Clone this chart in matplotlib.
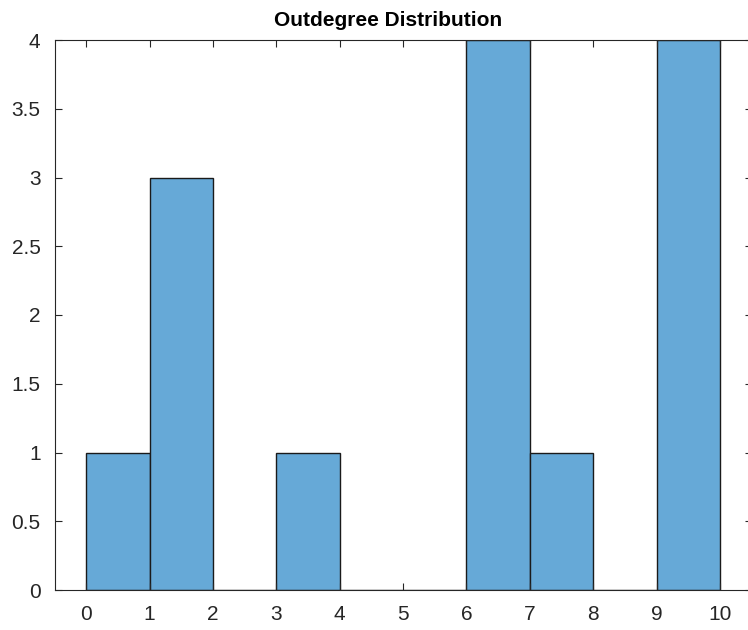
import numpy as np
import matplotlib
matplotlib.use('Agg')
import matplotlib.pyplot as plt

# bin edges and counts of the outdegree histogram
bin_edges = [0, 1, 2, 3, 4, 5, 6, 7, 8, 9, 10]
counts = [1, 3, 0, 1, 0, 0, 4, 1, 0, 4]
x_ticks = [0, 1, 2, 3, 4, 5, 6, 7, 8, 9, 10]
y_ticks = [0, 0.5, 1, 1.5, 2, 2.5, 3, 3.5, 4]

plt.rcParams['font.family'] = ['Liberation Sans', 'DejaVu Sans']

fig = plt.figure(figsize=(7.48, 6.3), dpi=100)
ax = fig.add_axes([54.5 / 748, 1 - 590 / 630, (751.7 - 54.5) / 748, 550 / 630])

lefts = np.array(bin_edges[:-1])
widths = np.diff(bin_edges)
ax.bar(lefts, counts, width=widths, align='edge',
	color='#66a9d7', edgecolor='#1a1a1a', linewidth=1.0)

ax.set_xlim(-0.5, 10.5)
ax.set_ylim(0, 4)
ax.set_xticks(x_ticks)
ax.set_yticks(y_ticks)
ax.set_yticklabels(['0', '0.5', '1', '1.5', '2', '2.5', '3', '3.5', '4'])
ax.tick_params(direction='in', length=5, width=0.8, color='#262626',
	labelsize=15, labelcolor='#262626', top=True, right=True, pad=10)
ax.tick_params(axis='x', pad=11)
for s in ax.spines.values():
	s.set_color('#262626')
	s.set_linewidth(0.8)

ax.set_title('Outdegree Distribution', fontsize=15, fontweight='bold', x=0.478, pad=10)

fig.savefig('out.png', dpi=100)
